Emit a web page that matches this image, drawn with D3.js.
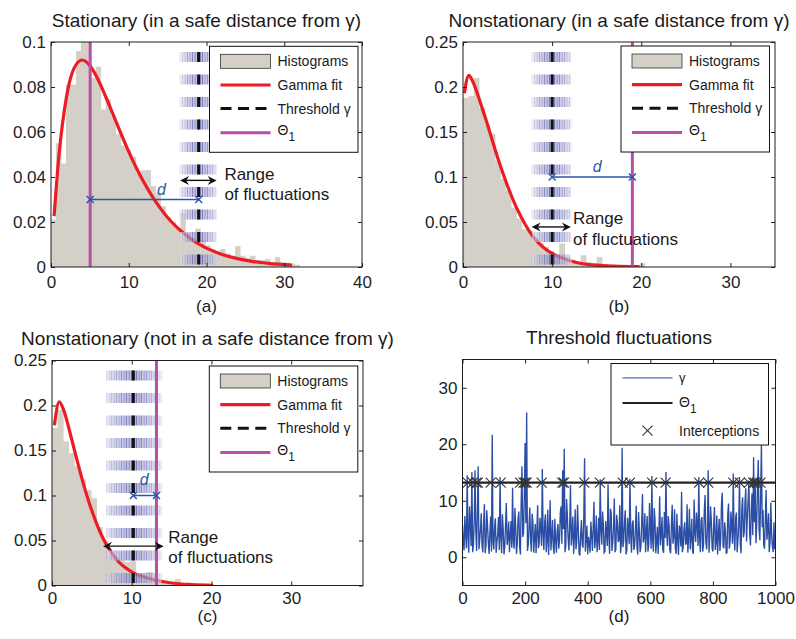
<!DOCTYPE html>
<html>
<head>
<meta charset="utf-8">
<script src="https://cdn.jsdelivr.net/npm/d3@7"></script>
<style>
  body { margin: 0; background: #fff; }
  svg { display: block; }
</style>
</head>
<body>
<svg id="fig" width="796" height="639"></svg>
<script>
// ---------------- data ----------------
// (a) stationary, safe distance
const binWidthA = 0.64;
const histA = [0.021,0.055,0.046,0.081,0.081,0.096,0.104,0.104,0.084,0.089,
               0.070,0.0745,0.067,0.059,0.054,0.052,0.049,0.042,0.043,0.043,
               0.036,0.033,0.027,0.022,0.020,0.017,0.024,0.015,0.013,0.017,
               0.012,0.0096,0.008,0.007,0.008,0.006,0.005,0.0093,0.005,0.004,
               0.005,0.003,0.003,0.0035,0.002,0.0044,0.002,0.002,0.0015,0.001];
const fitAx = [0.4,1,2,3,4,5,6,7,8,9,10,11,12,13,14,15,16,17,18,19,20,22,24,26,28,31];
const fitAy = [0.0226,0.0487,0.0758,0.0886,0.0920,0.0895,0.0837,0.0760,0.0677,0.0593,
               0.0513,0.0439,0.0373,0.0315,0.0264,0.0220,0.0183,0.0152,0.0125,0.0103,
               0.0084,0.0056,0.0037,0.0024,0.0016,0.0008];
const thresholdA = 19, thetaA = 5.04, rangeA = [16.6, 21.3], dLevelA = 0.03, arrowLevelA = 0.0385;

// (b) nonstationary, safe distance
const binWidthB = 0.6;
const histB = [0.188,0.19,0.21,0.176,0.158,0.148,0.118,0.098,0.085,0.066,
               0.054,0.042,0.040,0.033,0.027,0.022,0.018,0.014,0.026,0.011,
               0.008,0.006,0.013,0.005,0.004,0.011,0.003,0.002,0.002,0.001,
               0.001,0.002,0.001,0.004];
const fitBx = [0.15,0.65,1,1.5,2,2.5,3,4,5,6,7,8,9,10,11,12,13,14,15,17,19.8];
const fitBy = [0.193,0.213,0.208,0.196,0.181,0.166,0.150,0.118,0.090,0.066,0.047,0.032,
               0.022,0.015,0.0105,0.007,0.0045,0.003,0.002,0.001,0.0004];
const thresholdB = 10, thetaB = 19, rangeB = [7.75, 12.2], dLevelB = 0.1, arrowLevelB = 0.0445;

// (c) nonstationary, not at a safe distance
const binWidthC = 0.7;
const histC = [0.175,0.195,0.16,0.147,0.133,0.118,0.106,0.097,0.065,0.05,
               0.034,0.031,0.028,0.026,0.027,0.011,0.009,0.015,0.007,0.006,
               0.004,0.003,0.007,0.002,0.001,0.001,0.001,0.001];
const fitCx = [0.3,0.9,1.5,2.25,3,3.5,4,4.77,5.5,6,6.85,7.5,8.5,9.5,10.2,11,12.7,14,15.6,17.5,20.2];
const fitCy = [0.178,0.204,0.194,0.170,0.144,0.127,0.111,0.089,0.071,0.060,0.045,0.036,
               0.025,0.018,0.014,0.011,0.0065,0.0042,0.0022,0.0011,0.0003];
const thresholdC = 10.2, thetaC = 13.1, rangeC = [6.85, 13.75], dLevelC = 0.1, arrowLevelC = 0.0437;

// (d) threshold fluctuations over time, one value every 2.5 samples
const gammaStep = 2.5;
const gammaSeries = [
  5.8, 2.9, 1.2, 7.3, 4.1, 1.6, 14.5, 3.7, 0.8, 9.0, 6.2, 2.0, 15.1, 0.9, 2.3, 6.5, 15.4, 4.8, 1.1, 8.2,
  16.1, 1.4, 3.0, 5.1, 7.8, 1.9, 0.9, 6.0, 9.4, 0.7, 2.1, 8.3, 5.6, 2.5, 0.6, 4.4, 7.2, 1.0, 21.7, 2.6,
  1.4, 5.3, 6.9, 0.8, 2.8, 4.0, 7.1, 1.3, 14.2, 3.4, 0.7, 7.6, 4.9, 0.5, 1.8, 5.8, 9.6, 2.2, 3.2, 6.3,
  0.9, 3.8, 6.4, 1.7, 12.3, 2.8, 1.5, 8.7, 5.2, 0.6, 2.4, 6.9, 8.1, 1.9, 0.5, 9.9, 16.1, 3.6, 4.3, 10.7,
  20.2, 6.0, 25.6, 1.1, 2.2, 5.4, 8.8, 3.1, 1.0, 7.7, 6.1, 0.8, 3.4, 5.9, 0.7, 4.2, 9.2, 1.6, 2.5, 7.0,
  5.4, 2.0, 15.6, 3.9, 1.3, 6.2, 7.6, 0.9, 2.9, 8.4, 0.4, 4.5, 10.1, 1.2, 3.6, 6.6, 1.9, 0.6, 6.8, 3.0,
  0.8, 4.6, 5.9, 1.5, 3.1, 7.9, 9.0, 2.4, 15.4, 5.0, 19.2, 0.9, 2.0, 10.3, 7.4, 3.3, 1.2, 5.5, 12.8, 2.1,
  4.0, 7.2, 0.6, 3.5, 8.5, 1.4, 2.7, 9.3, 5.1, 0.7, 0.3, 4.1, 6.6, 2.2, 1.7, 6.9, 17.5, 1.0, 3.3, 5.6,
  0.5, 3.6, 2.4, 0.8, 6.3, 4.1, 1.1, 5.2, 9.8, 1.6, 3.0, 7.4, 0.9, 2.8, 7.0, 1.3, 13.8, 4.7, 2.2, 8.1,
  5.7, 0.8, 1.0, 6.4, 4.2, 2.0, 12.9, 3.5, 0.6, 8.6, 7.9, 1.1, 2.6, 5.3, 10.4, 0.9, 1.4, 7.5, 6.0, 2.7,
  3.1, 9.2, 0.7, 2.5, 19.4, 1.8, 2.8, 6.1, 8.3, 0.5, 1.2, 7.0, 5.0, 2.3, 13.9, 3.8, 0.8, 5.9, 6.5, 1.3,
  2.1, 4.9, 9.1, 1.7, 0.5, 8.0, 4.6, 0.9, 1.9, 6.3, 11.2, 2.6, 3.5, 7.8, 0.9, 4.4, 7.3, 1.0, 2.4, 9.6,
  5.2, 1.5, 14.4, 3.0, 1.0, 8.7, 6.7, 0.7, 2.9, 5.4, 0.6, 4.3, 10.8, 2.1, 3.9, 7.1, 1.3, 0.8, 8.0, 3.4,
  15.1, 4.1, 2.0, 7.3, 5.5, 1.2, 0.7, 6.0, 9.3, 2.4, 3.6, 8.5, 1.5, 0.6, 7.7, 3.0, 0.4, 5.6, 4.8, 1.9,
  11.6, 0.9, 1.8, 5.0, 6.2, 2.2, 2.5, 9.4, 0.8, 3.7, 8.6, 1.4, 3.2, 6.8, 1.1, 0.6, 10.2, 4.5, 2.7, 7.9,
  5.9, 2.0, 14.2, 3.3, 0.9, 6.6, 7.1, 1.0, 2.3, 8.2, 11.0, 2.7, 1.4, 5.1, 15.4, 0.8, 3.8, 9.0, 6.4, 1.6,
  1.0, 5.7, 8.9, 1.3, 2.6, 7.4, 0.5, 3.9, 6.8, 1.1, 3.3, 9.5, 11.4, 2.0, 1.6, 6.2, 4.7, 0.7, 0.8, 7.6,
  9.5, 1.5, 2.9, 8.1, 5.4, 2.4, 14.8, 4.0, 1.2, 6.9, 7.9, 0.9, 3.1, 5.8, 14.2, 2.3, 0.7, 8.8, 10.6, 3.5,
  4.4, 9.7, 12.2, 2.8, 6.9, 10.1, 13.6, 4.3, 2.1, 8.4, 11.3, 3.9, 17.7, 6.2, 13.9, 2.5, 5.8, 12.4, 17.2, 4.9,
  3.0, 11.0, 20.1, 5.3, 8.4, 2.2, 1.5, 6.7, 11.9, 3.1, 4.6, 7.8, 0.9, 2.6, 9.7, 4.0, 2.0, 0.9, 6.2, 1.4, 2.8
];
const thetaD = 13.2;
const interceptions = [17,33,44,49,90,122,184,195,200,205,253,319,324,389,439,
                       512,535,606,649,756,785,865,886,915,929,934,941,952];

// tick labels
const xTicksA = [0,10,20,30,40], yTicksA = [0,0.02,0.04,0.06,0.08,0.1];
const xTicksB = [0,10,20,30],    yTicksB = [0,0.05,0.1,0.15,0.2,0.25];
const xTicksC = [0,10,20,30],    yTicksC = [0,0.05,0.1,0.15,0.2,0.25];
const xTicksD = [0,200,400,600,800,1000], yTicksD = [0,10,20,30];

// ---------------- styling ----------------
const FONT = '"Liberation Sans", Arial, Helvetica, sans-serif';
const C = {
  hist: "#d4d0c8", fit: "#ec1c24", theta: "#b94ea9", dline: "#2d56aa",
  series: "#2a4ea5", stripe: "#30309a", ink: "#1e1e1e"
};
const DASH = "10 12.5", DASH_OFF = 20;

const svg = d3.select("#fig").attr("font-family", FONT);

function frame(g, x, y, w, h, xTicks, yTicks, xPad) {
  const fmt = d => String(d);
  const ax = g.append("g");
  ax.append("g").attr("transform", `translate(0,${h})`)
    .call(d3.axisBottom(x).tickValues(xTicks).tickSize(-4).tickPadding(xPad).tickFormat(fmt));
  ax.append("g").call(d3.axisTop(x).tickValues(xTicks).tickSize(-4).tickFormat(""));
  ax.append("g").call(d3.axisLeft(y).tickValues(yTicks).tickSize(-4).tickPadding(5).tickFormat(fmt));
  ax.append("g").attr("transform", `translate(${w},0)`)
    .call(d3.axisRight(y).tickValues(yTicks).tickSize(-4).tickFormat(""));
  ax.selectAll(".domain").remove();
  ax.selectAll(".tick line").attr("stroke", C.ink);
  ax.selectAll(".tick text").attr("fill", C.ink).attr("font-size", 17).attr("font-family", FONT);
  g.append("rect").attr("width", w).attr("height", h)
    .attr("fill", "none").attr("stroke", C.ink).attr("stroke-width", 1);
}

function thetaLabel(sel, size) {
  sel.append("tspan").text("Θ");
  sel.append("tspan").attr("dy", size * 0.45).attr("font-size", size * 0.85).text("1");
}

function xMark(g, cx, cy, r, color, width) {
  g.append("path").attr("d", `M${cx - r},${cy - r}L${cx + r},${cy + r}M${cx - r},${cy + r}L${cx + r},${cy - r}`)
    .attr("stroke", color).attr("stroke-width", width).attr("fill", "none");
}

function arrowHead(g, tx, ty, dir) {
  // dir: +1 pointing right, -1 pointing left
  const L = 9, W = 4.5, N = 6;
  g.append("path")
    .attr("d", `M${tx},${ty}L${tx - dir * L},${ty - W}L${tx - dir * N},${ty}L${tx - dir * L},${ty + W}Z`)
    .attr("fill", "#111");
}

function histPanel(c) {
  const w = c.right - c.left, h = c.bottom - c.top;
  const g = svg.append("g").attr("transform", `translate(${c.left},${c.top})`);
  const x = d3.scaleLinear().domain(c.xDomain).range([0, w]);
  const y = d3.scaleLinear().domain(c.yDomain).range([h, 0]);

  g.append("clipPath").attr("id", "clip-" + c.id)
    .append("rect").attr("width", w).attr("height", h);
  const plot = g.append("g").attr("clip-path", `url(#clip-${c.id})`);

  // histogram bars
  plot.selectAll("rect.bar").data(c.hist).join("rect").attr("class", "bar")
    .attr("x", (d, i) => x(i * c.binWidth))
    .attr("width", (d, i) => x((i + 1) * c.binWidth) - x(i * c.binWidth) + 0.4)
    .attr("y", d => y(d)).attr("height", d => y(0) - y(d))
    .attr("fill", C.hist);

  // gamma fit
  const line = d3.line().x(d => x(d[0])).y(d => y(d[1])).curve(d3.curveMonotoneX);
  plot.append("path").datum(d3.zip(c.fitX, c.fitY)).attr("d", line)
    .attr("fill", "none").attr("stroke", C.fit).attr("stroke-width", 3.2);

  // threshold fluctuation band around each dash
  const lo = x(c.range[0]), hi = x(c.range[1]), mid = x(c.threshold);
  const band = plot.append("g");
  band.append("line").attr("x1", (lo + hi) / 2).attr("x2", (lo + hi) / 2)
    .attr("y1", h).attr("y2", 0)
    .attr("stroke", "#fff").attr("stroke-opacity", 0.55).attr("stroke-width", hi - lo)
    .attr("stroke-dasharray", DASH).attr("stroke-dashoffset", DASH_OFF);
  const span = Math.max(mid - lo, hi - mid);
  band.selectAll("line.stripe").data(d3.range(lo, hi, 1.25)).join("line").attr("class", "stripe")
    .attr("x1", d => d).attr("x2", d => d).attr("y1", h).attr("y2", 0)
    .attr("stroke", C.stripe).attr("stroke-width", 0.9)
    .attr("stroke-opacity", (d, i) => {
      const t = 1 - Math.abs(d - mid) / span;
      return (0.14 + 0.72 * Math.pow(t, 0.7)) * (i % 2 ? 0.55 : 1);
    })
    .attr("stroke-dasharray", DASH).attr("stroke-dashoffset", DASH_OFF);

  // threshold (dashed)
  plot.append("line").attr("x1", mid).attr("x2", mid).attr("y1", h).attr("y2", 0)
    .attr("stroke", "#111").attr("stroke-width", 3)
    .attr("stroke-dasharray", DASH).attr("stroke-dashoffset", DASH_OFF);

  // Θ1
  plot.append("line").attr("x1", x(c.theta)).attr("x2", x(c.theta)).attr("y1", h).attr("y2", 0)
    .attr("stroke", C.theta).attr("stroke-width", 3);

  // distance d
  const dy = y(c.dLevel);
  const da = x(Math.min(c.theta, c.threshold)), db = x(Math.max(c.theta, c.threshold));
  plot.append("line").attr("x1", da).attr("x2", db).attr("y1", dy).attr("y2", dy)
    .attr("stroke", C.dline).attr("stroke-width", 1.4);
  xMark(plot, da, dy, 3.5, C.dline, 1.5);
  xMark(plot, db, dy, 3.5, C.dline, 1.5);
  plot.append("text").attr("x", x(c.dLabel[0])).attr("y", y(c.dLabel[1]))
    .attr("text-anchor", "middle").attr("font-style", "italic").attr("font-size", 16)
    .attr("fill", C.dline).text("d");

  // range of fluctuations arrow
  const ay = y(c.arrowLevel), al = x(c.arrow[0]), ar = x(c.arrow[1]);
  plot.append("line").attr("x1", al + 5).attr("x2", ar - 5).attr("y1", ay).attr("y2", ay)
    .attr("stroke", "#111").attr("stroke-width", 1.4);
  arrowHead(plot, al, ay, -1);
  arrowHead(plot, ar, ay, 1);
  const rt = plot.append("g").attr("font-size", 17).attr("fill", "#1a1a1a");
  rt.append("text").attr("x", x(c.rangeText[0])).attr("y", y(c.rangeText[1])).text("Range");
  rt.append("text").attr("x", x(c.rangeText[0])).attr("y", y(c.rangeText[2])).text("of fluctuations");

  frame(g, x, y, w, h, c.xTicks, c.yTicks, c.xPad);

  // legend
  const lg = g.append("g").attr("transform", `translate(${c.legend[0]},${c.legend[1]})`);
  lg.append("rect").attr("width", 148.5).attr("height", 106)
    .attr("fill", "#fff").attr("stroke", "#111").attr("stroke-width", 1);
  const rows = [15, 38.7, 62.3, 86.5];
  lg.append("rect").attr("x", 11).attr("y", rows[0] - 7).attr("width", 50).attr("height", 14)
    .attr("fill", C.hist).attr("stroke", "#333").attr("stroke-width", 0.8);
  lg.append("line").attr("x1", 11).attr("x2", 61).attr("y1", rows[1]).attr("y2", rows[1])
    .attr("stroke", C.fit).attr("stroke-width", 3.2);
  lg.append("line").attr("x1", 11).attr("x2", 61).attr("y1", rows[2]).attr("y2", rows[2])
    .attr("stroke", "#111").attr("stroke-width", 3).attr("stroke-dasharray", "11 6.5");
  lg.append("line").attr("x1", 11).attr("x2", 61).attr("y1", rows[3]).attr("y2", rows[3])
    .attr("stroke", C.theta).attr("stroke-width", 3);
  const lt = lg.append("g").attr("font-size", 14).attr("fill", "#1a1a1a");
  lt.append("text").attr("x", 68).attr("y", rows[0] + 5).text("Histograms");
  lt.append("text").attr("x", 68).attr("y", rows[1] + 5).text("Gamma fit");
  lt.append("text").attr("x", 68).attr("y", rows[2] + 5).text("Threshold γ");
  thetaLabel(lt.append("text").attr("x", 68).attr("y", rows[3] + 2), 14);

  // title and panel label
  svg.append("text").attr("x", (c.left + c.right) / 2).attr("y", c.titleY)
    .attr("text-anchor", "middle").attr("font-size", 19).attr("fill", "#1a1a1a").text(c.title);
  svg.append("text").attr("x", (c.left + c.right) / 2).attr("y", c.labelY)
    .attr("text-anchor", "middle").attr("font-size", 17).attr("fill", "#1a1a1a").text(c.label);
}

histPanel({
  id: "a", left: 51, right: 362, top: 42, bottom: 267,
  xDomain: [0, 40], yDomain: [0, 0.1], xTicks: xTicksA, yTicks: yTicksA, xPad: 9,
  hist: histA, binWidth: binWidthA, fitX: fitAx, fitY: fitAy,
  threshold: thresholdA, theta: thetaA, range: rangeA, arrow: rangeA,
  dLevel: dLevelA, dLabel: [14.2, 0.032], arrowLevel: arrowLevelA,
  rangeText: [22.3, 0.0385, 0.0296], legend: [158.5, 4.3],
  title: "Stationary (in a safe distance from γ)", titleY: 27, label: "(a)", labelY: 312
});

histPanel({
  id: "b", left: 463, right: 775, top: 42, bottom: 267,
  xDomain: [0, 35], yDomain: [0, 0.25], xTicks: xTicksB, yTicks: yTicksB, xPad: 9,
  hist: histB, binWidth: binWidthB, fitX: fitBx, fitY: fitBy,
  threshold: thresholdB, theta: thetaB, range: rangeB, arrow: [7.7, 12.1],
  dLevel: dLevelB, dLabel: [15.06, 0.1057], arrowLevel: arrowLevelB,
  rangeText: [12.35, 0.0475, 0.0241], legend: [158, 4],
  title: "Nonstationary (in a safe distance from γ)", titleY: 27, label: "(b)", labelY: 312
});

histPanel({
  id: "c", left: 52, right: 363, top: 360.5, bottom: 585.5,
  xDomain: [0, 39], yDomain: [0, 0.25], xTicks: xTicksC, yTicks: yTicksC, xPad: 6,
  hist: histC, binWidth: binWidthC, fitX: fitCx, fitY: fitCy,
  threshold: thresholdC, theta: thetaC, range: rangeC, arrow: [6.4, 14.0],
  dLevel: dLevelC, dLabel: [11.55, 0.1116], arrowLevel: arrowLevelC,
  rangeText: [14.57, 0.0474, 0.0251], legend: [157.3, 5.5],
  title: "Nonstationary (not in a safe distance from γ)", titleY: 345, label: "(c)", labelY: 622
});

// ---------------- (d) threshold fluctuations ----------------
(function () {
  const left = 462.5, right = 775.5, top = 359.5, bottom = 585.5;
  const w = right - left, h = bottom - top;
  const g = svg.append("g").attr("transform", `translate(${left},${top})`);
  const x = d3.scaleLinear().domain([0, 1000]).range([0, w]);
  const y = d3.scaleLinear().domain([-5, 35]).range([h, 0]);
  g.append("clipPath").attr("id", "clip-d").append("rect").attr("width", w).attr("height", h);
  const plot = g.append("g").attr("clip-path", "url(#clip-d)");

  plot.append("path").datum(gammaSeries)
    .attr("d", d3.line().x((d, i) => x(i * gammaStep)).y(d => y(d)))
    .attr("fill", "none").attr("stroke", C.series).attr("stroke-width", 1.35)
    .attr("stroke-linejoin", "miter");

  plot.append("line").attr("x1", 0).attr("x2", w).attr("y1", y(thetaD)).attr("y2", y(thetaD))
    .attr("stroke", "#222").attr("stroke-width", 2.2);

  interceptions.forEach(v => xMark(plot, x(v), y(thetaD), 5, "#333", 1.1));

  frame(g, x, y, w, h, xTicksD, yTicksD, 6);

  // legend
  const lg = g.append("g").attr("transform", `translate(${611 - left},${363.5 - top})`);
  lg.append("rect").attr("width", 157.5).attr("height", 81.5)
    .attr("fill", "#fff").attr("stroke", "#111").attr("stroke-width", 1);
  lg.append("line").attr("x1", 11.5).attr("x2", 61.5).attr("y1", 14.3).attr("y2", 14.3)
    .attr("stroke", "#4a6cb8").attr("stroke-width", 1.3);
  lg.append("line").attr("x1", 11.5).attr("x2", 61.5).attr("y1", 39.5).attr("y2", 39.5)
    .attr("stroke", "#222").attr("stroke-width", 2);
  xMark(lg, 36.5, 67.2, 5, "#333", 1.1);
  const lt = lg.append("g").attr("font-size", 14).attr("fill", "#1a1a1a");
  lt.append("text").attr("x", 68).attr("y", 18).attr("font-size", 13).text("γ");
  thetaLabel(lt.append("text").attr("x", 68).attr("y", 43), 14);
  lt.append("text").attr("x", 68).attr("y", 72).text("Interceptions");

  svg.append("text").attr("x", (left + right) / 2).attr("y", 344)
    .attr("text-anchor", "middle").attr("font-size", 19).attr("fill", "#1a1a1a").text("Threshold fluctuations");
  svg.append("text").attr("x", (left + right) / 2).attr("y", 622)
    .attr("text-anchor", "middle").attr("font-size", 17).attr("fill", "#1a1a1a").text("(d)");
})();
</script>
</body>
</html>
